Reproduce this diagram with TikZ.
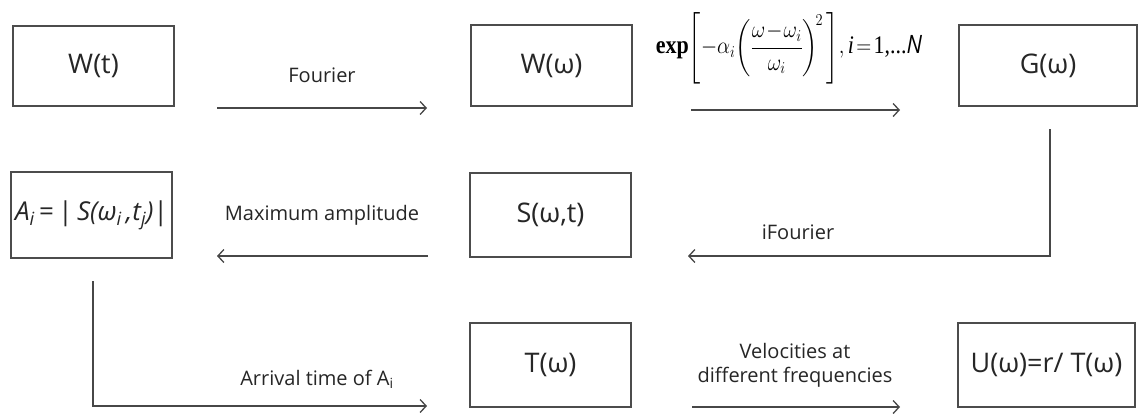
\documentclass[tikz,border=0pt]{standalone}
\usepackage{amsmath}
\usepackage{graphicx}
\usepackage{fontspec}
\setmainfont{Open Sans}
\newfontfamily\tmsfont{Liberation Serif}
\usetikzlibrary{arrows.meta,calc}
\begin{document}
\begin{tikzpicture}[x=1pt,y=-1pt]
\tikzset{
 box/.style={draw=black!70, line width=1.3pt, inner sep=0pt, text=black!85,
   font=\fontsize{27}{32}\selectfont},
 conn/.style={draw=black!72, line width=1.3pt,
   -{Straight Barb[length=6pt,width=13pt,line width=1.3pt]}},
 lab/.style={text=black!85, font=\fontsize{20}{24}\selectfont, inner sep=0pt, align=center}
}
\useasboundingbox[fill=white] (0,0) rectangle (1139,416);
% boxes
\node[box, minimum width=161pt, minimum height=80pt] (Wt) at (93.5,66) {W(t)};
\node[box, minimum width=161pt, minimum height=81pt] (Ww) at (551.5,65.5) {W(ω)};
\node[box, minimum width=178pt, minimum height=81pt] (G) at (1048,65.5) {G(ω)};
\node[box, minimum width=161pt, minimum height=86pt] (A) at (91.5,215)
  {\fontsize{26}{30}\selectfont\itshape A\textsubscript{i}\,\upshape=\,|\,\itshape S(ω\textsubscript{i}\,,t\textsubscript{j})\upshape|};
\node[box, minimum width=161pt, minimum height=84pt] (S) at (550.5,215) {S(ω,t)};
\node[box, minimum width=161pt, minimum height=84pt] (T) at (550.5,365) {T(ω)};
\node[box, minimum width=177pt, minimum height=84pt] (U) at (1046.5,365) {U(ω)=r/ T(ω)};
% connector end points
\coordinate (f0) at (217,108);
\coordinate (f1) at (427,108);
\coordinate (g0) at (691,110);
\coordinate (g1) at (900,110);
\coordinate (h0) at (1050,129);
\coordinate (h1) at (688,256);
\coordinate (m0) at (428,256);
\coordinate (m1) at (217,256);
\coordinate (a0) at (93,281);
\coordinate (a1) at (427,406);
\coordinate (v0) at (692,407);
\coordinate (v1) at (900,407);
% connectors
\draw[conn] (f0) -- (f1);
\draw[conn] (g0) -- (g1);
\draw[conn] (h0) |- (h1);
\draw[conn] (m0) -- (m1);
\draw[conn] (a0) |- (a1);
\draw[conn] (v0) -- (v1);
% labels
\node[lab] (lf) at (322,75) {Fourier};
\node[lab, text=black] (lg) at (789,48)
  {\scalebox{1}[1.15]{\fontsize{22}{26}\selectfont$\text{\tmsfont\bfseries exp}\!\left[-\alpha_i\!\left(\dfrac{\omega\!-\!\omega_i}{\omega_i}\right)^{\!2}\,\right]\!,\text{\tmsfont\itshape i}\!=\!\text{\tmsfont 1,...}\mathit{N}$}};
\node[lab] (li) at (798,232) {iFourier};
\node[lab] (lm) at (322,215) {Maximum amplitude};
\node[lab] (la) at (317,379) {Arrival time of A\textsubscript{i}};
\node[lab] (lv) at (795,365) {Velocities at\\different frequencies};
\end{tikzpicture}
\end{document}
